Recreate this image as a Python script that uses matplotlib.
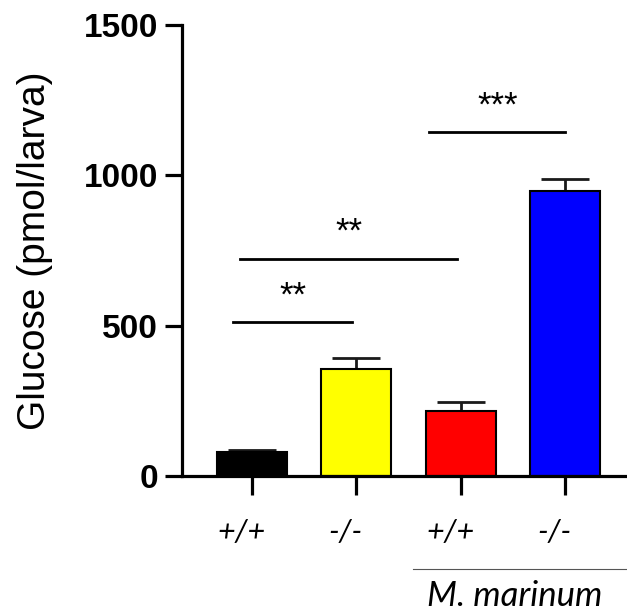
import matplotlib
matplotlib.use('Agg')
import matplotlib.pyplot as plt

# data
genotypes = ['+/+', '-/-', '+/+', '-/-']
glucose = [80, 357, 217, 947]
sem = [5, 36, 30, 40]
colors = ['black', '#ffff00', '#ff0000', '#0000ff']

# significance brackets: (x start, x end, height, label)
sig_x0 = [-0.18, -0.11, 1.70]
sig_x1 = [0.96, 1.96, 3.0]
sig_y = [513, 723, 1143]
sig_txt = ['**', '**', '***']

fig = plt.figure(figsize=(6.27, 6.14), dpi=100)
ax = fig.add_axes([0.290, 0.2248, 0.710, 0.7342])

x = list(range(len(glucose)))
ax.bar(x, glucose, width=0.67, color=colors, edgecolor='black', linewidth=1.5, zorder=2)
ax.errorbar(x, glucose, yerr=[[0]*len(sem), sem], fmt='none', ecolor='#1a1a1a',
            elinewidth=2, capsize=17, capthick=2, zorder=1)

for x0, x1, y, t in zip(sig_x0, sig_x1, sig_y, sig_txt):
    ax.plot([x0, x1], [y, y], color='black', lw=2)
    ax.text((x0 + x1) / 2, y + 32, t, ha='center', va='bottom', fontsize=25,
            family='Liberation Sans')

ax.set_xlim(-0.67, 3.59)
ax.set_ylim(0, 1500)
ax.set_yticks([0, 500, 1000, 1500])
ax.set_xticks(x)
ax.set_xticklabels([])
# genotype labels sit a little left of each tick, as in the original
for i, g in zip(x, genotypes):
    ax.text(i - 0.1, -0.124, g, transform=ax.get_xaxis_transform(), family='Lato',
            style='italic', fontsize=22, ha='center', va='center')
for lab in ax.get_yticklabels():
    lab.set_family('Liberation Sans')
    lab.set_fontweight('bold')
    lab.set_fontsize(24)

ax.spines['top'].set_visible(False)
ax.spines['right'].set_visible(False)
ax.spines['left'].set_linewidth(2.3)
ax.spines['bottom'].set_linewidth(2.3)
ax.tick_params(axis='y', length=12, width=2.3, pad=5)
ax.tick_params(axis='x', length=14, width=2.3)

ax.set_ylabel('Glucose (pmol/larva)', family='Liberation Sans', fontsize=28, labelpad=22)

# M. marinum bracket under the last two groups
fig.add_artist(plt.Line2D([413/627, 627/627], [1 - 569/614, 1 - 569/614],
                          color='#555555', lw=0.8))
fig.text(515/627, 1 - 596/614, 'M. marinum', family='Lato', style='italic',
         fontsize=25, ha='center', va='center')

fig.savefig('out.png', dpi=100)
